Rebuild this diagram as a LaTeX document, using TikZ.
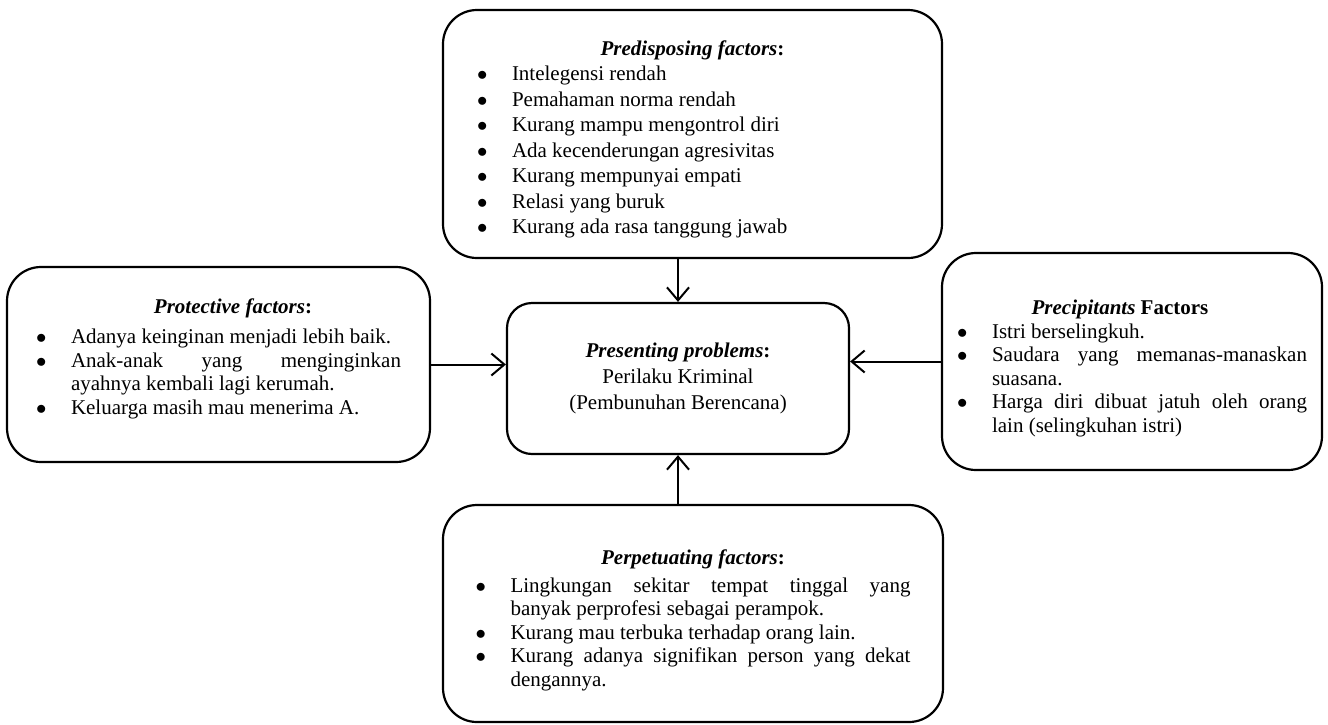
\documentclass[tikz,border=0pt]{standalone}
\usepackage{fontspec}
\setmainfont{Liberation Serif}
\usetikzlibrary{arrows.meta}
\newdimen\bulind
\bulind=35pt
\newcommand\bul{\par\noindent\hangindent=\bulind\hangafter=1\makebox[\bulind][l]{$\bullet$}\ignorespaces}
\newcommand\ftitle[2][0pt]{{\centering\rule{0pt}{\dimexpr15pt+#1\relax}#2\par}}
\tikzstyle{factor}=[
  draw=black,
  line width=2.2pt,
  rounded corners=34pt,
  inner sep=0pt,
  align=justify,
  font=\fontsize{21}{23.5}\selectfont,
]
\tikzstyle{problem}=[
  factor,
  rounded corners=25pt,
  align=center,
  font=\fontsize{21}{26}\selectfont,
]
\tikzstyle{arrow}=[
  draw=black,
  line width=2pt,
  -{Straight Barb[length=13pt,width=22pt]},
]

\begin{document}
\begin{tikzpicture}[x=1pt,y=-1pt]
  \useasboundingbox (0,0) rectangle (1328,724);
  \node (pred) [factor, minimum width=499pt, minimum height=248pt, text width=431pt,
    font=\fontsize{21}{25.5}\selectfont] at (692.5,134) {%
    \ftitle[11pt]{\textbf{\textit{Predisposing factors}:}}
    \bul Intelegensi rendah
    \bul Pemahaman norma rendah
    \bul Kurang mampu mengontrol diri
    \bul Ada kecenderungan agresivitas
    \bul Kurang mempunyai empati
    \bul Relasi yang buruk
    \bul Kurang ada rasa tanggung jawab\par};
  \node (prot) [factor, minimum width=423pt, minimum height=195pt, text width=365pt]
    at (218.5,364.5) {%
    \ftitle{\hspace*{29pt}\textbf{\textit{Protective factors}:}}
    \vspace{7pt}
    \bul Adanya keinginan menjadi lebih baik.
    \bul Anak-anak yang menginginkan \linebreak ayahnya kembali lagi kerumah.
    \bul Keluarga masih mau menerima A.\rule[-17pt]{0pt}{0pt}\par};
  \node (pres) [problem, minimum width=342pt, minimum height=151pt] at (678,378.5)
    {\textbf{\textit{Presenting problems}:}\\Perilaku Kriminal\\(Pembunuhan Berencana)};
  \node (prec) [factor, minimum width=380pt, minimum height=217pt, text width=350pt]
    at (1132,361.5) {%
    \ftitle[14pt]{\textbf{\textit{Precipitants} Factors}\hspace*{24pt}}
    \bul Istri berselingkuh.
    \bul Saudara yang memanas-manaskan \linebreak suasana.
    \bul Harga diri dibuat jatuh oleh orang \linebreak lain (selingkuhan istri)\par};
  \node (perp) [factor, minimum width=500pt, minimum height=217pt, text width=435pt]
    at (693,613.5) {%
    \ftitle[14pt]{\textbf{\textit{Perpetuating factors}:}}
    \vspace{4pt}
    \bul Lingkungan sekitar tempat tinggal yang \linebreak banyak perprofesi sebagai perampok.
    \bul Kurang mau terbuka terhadap orang lain.
    \bul Kurang adanya signifikan person yang dekat \linebreak dengannya.\par};
  % arrows into the presenting problem
  \draw [arrow] (prot.east) -- (prot.east -| pres.west);
  \draw [arrow] (prec.west) -- (prec.west -| pres.east);
  \draw [arrow] (pres.north |- pred.south) -- (pres.north);
  \draw [arrow] (pres.south |- perp.north) -- (pres.south);
\end{tikzpicture}
\end{document}
